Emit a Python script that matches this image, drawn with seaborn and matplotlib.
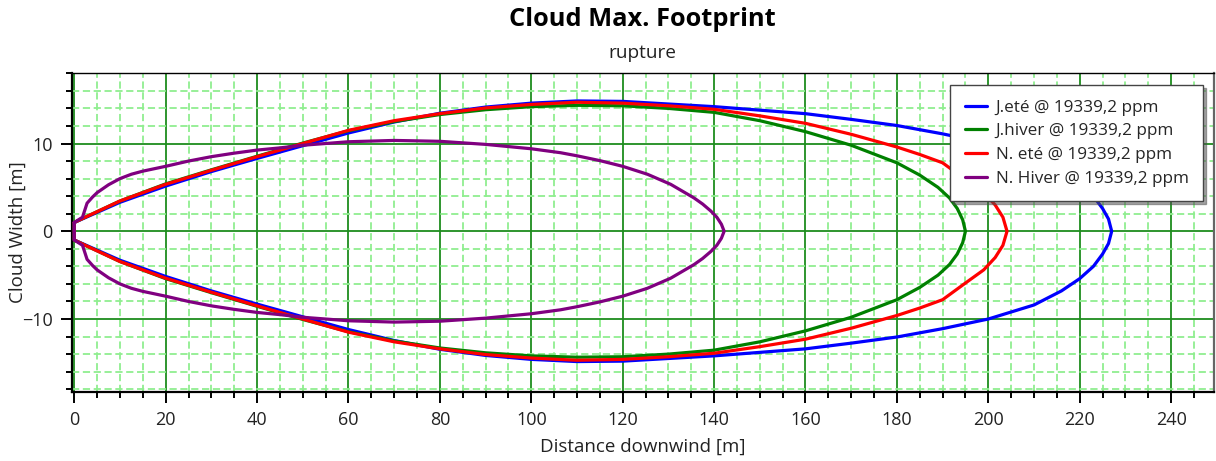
import numpy as np
import pandas as pd
import matplotlib
matplotlib.use("Agg")
import matplotlib.pyplot as plt
from matplotlib.ticker import MultipleLocator
import seaborn as sns

# Half-width of the cloud footprint (m) against distance downwind (m).
# The footprint is symmetric about the plume centreline.
dist_j_ete = [0, 2.4, 10, 20, 30, 40, 50, 60, 70, 80, 90, 100, 110, 120, 130,
              140, 150, 160, 170, 180, 190, 200, 210, 216, 220, 223, 225,
              226.3, 227]
width_j_ete = [1.0, 1.55, 3.3, 5.15, 6.8, 8.3, 9.75, 11.2, 12.45, 13.45, 14.15,
               14.6, 14.85, 14.8, 14.5, 14.2, 13.8, 13.4, 12.75, 12.05, 11.1,
               10.0, 8.4, 6.8, 5.4, 4.0, 2.6, 1.4, 0]

dist_j_hiver = [0, 2.4, 10, 20, 30, 40, 50, 60, 70, 80, 90, 100, 110, 120, 130,
                140, 150, 160, 170, 180, 185, 189, 191.5, 193.2, 194.4, 195]
width_j_hiver = [1.0, 1.6, 3.45, 5.4, 7.0, 8.55, 10.05, 11.45, 12.5, 13.3,
                 13.85, 14.2, 14.35, 14.3, 14.0, 13.55, 12.6, 11.35, 9.8, 7.8,
                 6.4, 5.0, 3.8, 2.6, 1.3, 0]

dist_n_ete = [0, 2.4, 10, 20, 30, 40, 50, 60, 70, 80, 90, 100, 110, 120, 130,
              140, 150, 160, 170, 180, 185, 190, 195, 199, 201.5, 203.2, 204.1]
width_n_ete = [1.0, 1.6, 3.45, 5.35, 6.95, 8.5, 10.0, 11.5, 12.6, 13.4, 14.05,
               14.45, 14.7, 14.6, 14.3, 13.9, 13.15, 12.3, 11.05, 9.6, 8.75,
               7.8, 5.9, 4.4, 3.0, 1.6, 0]

dist_n_hiver = [0, 1.8, 2.3, 2.8, 4, 5, 7.5, 10, 12.5, 15, 20, 25, 30, 35, 40,
                45, 50, 60, 70, 80, 90, 100, 106.4, 110, 115, 120, 125.4,
                130.5, 135.6, 137.5, 139.3, 140.6, 141.6, 142.2]
width_n_hiver = [1.0, 1.6, 2.4, 3.2, 3.9, 4.4, 5.3, 6.0, 6.5, 6.85, 7.4, 8.0,
                 8.5, 8.9, 9.25, 9.5, 9.8, 10.2, 10.35, 10.25, 9.9, 9.4, 8.95,
                 8.6, 8.05, 7.4, 6.5, 5.35, 3.8, 3.1, 2.3, 1.6, 0.8, 0]

series_labels = ["J.eté @ 19339,2 ppm", "J.hiver @ 19339,2 ppm",
                 "N. eté @ 19339,2 ppm", "N. Hiver @ 19339,2 ppm"]
series_colors = ["#0000FF", "#008000", "#FF0000", "#800080"]
series_data = [(dist_j_ete, width_j_ete), (dist_j_hiver, width_j_hiver),
               (dist_n_ete, width_n_ete), (dist_n_hiver, width_n_hiver)]

x_ticks = [0, 20, 40, 60, 80, 100, 120, 140, 160, 180, 200, 220, 240]
y_ticks = [-10, 0, 10]


def closed_contour(dist, width):
    """Upper edge out to the tip, then the lower edge back to the source."""
    d = np.asarray(dist, float)
    w = np.asarray(width, float)
    xs = np.concatenate([d, d[::-1][1:], d[:1]])
    ys = np.concatenate([w, -w[::-1][1:], w[:1]])
    return xs, ys


frames = []
for label, (d, w) in zip(series_labels, series_data):
    xs, ys = closed_contour(d, w)
    frames.append(pd.DataFrame({"distance": xs, "width": ys,
                                "scenario": label}))
df = pd.concat(frames, ignore_index=True)

sns.set_theme(style="white")
plt.rcParams["font.family"] = ["Open Sans", "DejaVu Sans"]

fig = plt.figure(figsize=(12.16, 4.61), dpi=100)
ax = fig.add_axes([0.0592, 0.150, 0.9392, 0.691])

sns.lineplot(data=df, x="distance", y="width", hue="scenario",
             hue_order=series_labels, palette=series_colors,
             sort=False, estimator=None, linewidth=2.3, ax=ax, legend=False,
             zorder=5)

ax.set_xlim(-0.5, 249.4)
ax.set_ylim(-18.3, 18.0)
ax.set_xticks(x_ticks)
ax.set_yticks(y_ticks)
ax.xaxis.set_minor_locator(MultipleLocator(5))
ax.yaxis.set_minor_locator(MultipleLocator(2))

ax.grid(which="minor", color="#90EE90", linestyle=(0, (4, 2)), linewidth=1.3,
        zorder=0)
ax.grid(which="major", color="#1E8C1E", linestyle="-", linewidth=1.3, zorder=1)
ax.set_axisbelow(True)

ax.tick_params(which="major", direction="out", length=8, width=1.4,
               color="black", labelsize=13, labelcolor="#222222",
               left=True, bottom=True, pad=6)
ax.tick_params(which="minor", direction="out", length=4, width=1.4,
               color="black", left=True, bottom=True)

for side in ["left", "bottom"]:
    ax.spines[side].set_color("black")
    ax.spines[side].set_linewidth(1.6)
ax.spines["top"].set_color("black")
ax.spines["top"].set_linewidth(1.0)
ax.spines["right"].set_color("#666666")
ax.spines["right"].set_linewidth(1.6)

ax.set_xlabel("Distance downwind [m]", fontsize=13.5, color="#222222",
              labelpad=6)
ax.set_ylabel("Cloud Width [m]", fontsize=13.5, color="#222222")
ax.yaxis.set_label_coords(-0.040, 0.5)

fig.text(0.528, 0.957, "Cloud Max. Footprint", ha="center", va="center",
         fontsize=18.3, fontweight="bold", color="black")
fig.text(0.528, 0.885, "rupture", ha="center", va="center", fontsize=13.7,
         color="#222222")

handles = [plt.Line2D([], [], color=c, linewidth=2.3) for c in series_colors]
leg = ax.legend(handles, series_labels, loc="upper right",
                bbox_to_anchor=(0.9904, 0.963), borderaxespad=0,
                fontsize=12.3, frameon=True, fancybox=False, shadow=True,
                framealpha=1, edgecolor="#444444", handlelength=1.3,
                handletextpad=0.5, borderpad=0.85, labelspacing=0.45)
leg.get_frame().set_linewidth(1.0)
leg.set_zorder(10)

fig.savefig("out.png", dpi=100, facecolor="white")
